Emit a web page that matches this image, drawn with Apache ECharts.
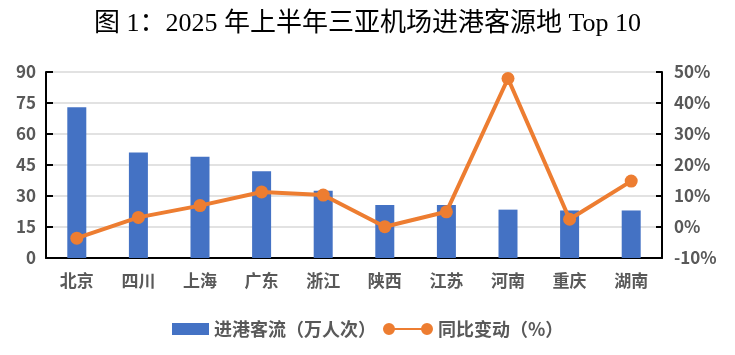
<!DOCTYPE html>
<html><head><meta charset="utf-8">
<script src="https://cdn.jsdelivr.net/npm/echarts@6/dist/echarts.min.js"></script>
<style>html,body{margin:0;padding:0;background:#fff}#c{width:735px;height:355px}</style>
</head><body><div id="c"></div>
<script>
const categories = ['北京','四川','上海','广东','浙江','陕西','江苏','河南','重庆','湖南'];
const passengerFlow = [73, 51, 49, 42, 32.5, 25.6, 25.6, 23.4, 23, 23];
const yoyChange = [-3.6, 3.1, 6.9, 11.3, 10.3, 0.1, 4.9, 47.9, 2.5, 14.8];
const leftTicks = {min: 0, max: 90, interval: 15};
const rightTicks = {min: -10, max: 50, interval: 10};
const seriesNames = ['进港客流（万人次）', '同比变动（%）'];
const titleText = '图 1：2025 年上半年三亚机场进港客源地 Top 10';

const chart = echarts.init(document.getElementById('c'));
const lab = {color: '#595959', fontWeight: 'bold', fontSize: 17, fontFamily: "'Noto Sans CJK SC', sans-serif"};
const legLab = Object.assign({}, lab, {fontSize: 18});
chart.setOption({
  animation: false,
  backgroundColor: '#fff',
  title: {text: titleText, left: 'center', top: 6,
    textStyle: {fontSize: 26, fontWeight: 'normal', color: '#000', fontFamily: "'Liberation Serif', 'Noto Sans CJK SC', serif"}},
  grid: {left: 46, right: 73, top: 72, bottom: 97, containLabel: false},
  legend: [
    {data: [{name: seriesNames[0], icon: 'rect'}], left: 167, top: 315, itemWidth: 37, itemHeight: 12, textStyle: legLab},
    {data: [{name: seriesNames[1], icon: 'path://M0,6 A6,6 0 1,1 12,6 A6,6 0 1,1 0,6 Z M10,5 L40,5 L40,7 L10,7 Z M38,6 A6,6 0 1,1 50,6 A6,6 0 1,1 38,6 Z'}], left: 378, top: 315, itemWidth: 50, itemHeight: 12, textStyle: legLab}
  ],
  xAxis: {type: 'category', data: categories,
    axisLine: {lineStyle: {color: '#000', width: 2}}, axisTick: {show: false},
    axisLabel: Object.assign({margin: 14}, lab)},
  yAxis: [
    Object.assign({type: 'value', position: 'left',
      axisLine: {show: true, lineStyle: {color: '#000', width: 2}},
      axisTick: {show: true, inside: true, length: 7, lineStyle: {color: '#000', width: 2}},
      splitLine: {lineStyle: {color: '#d9d9d9', width: 1.5}},
      axisLabel: Object.assign({margin: 10}, lab)}, leftTicks),
    Object.assign({type: 'value', position: 'right',
      axisLine: {show: true, lineStyle: {color: '#000', width: 2}},
      axisTick: {show: true, inside: true, length: 6, lineStyle: {color: '#000', width: 2}},
      splitLine: {show: false},
      axisLabel: Object.assign({margin: 12, formatter: '{value}%'}, lab)}, rightTicks)
  ],
  series: [
    {name: seriesNames[0], type: 'bar', data: passengerFlow, barWidth: 19, itemStyle: {color: '#4472C4'}},
    {name: seriesNames[1], type: 'line', yAxisIndex: 1, data: yoyChange, symbol: 'circle', symbolSize: 13,
      lineStyle: {color: '#ED7D31', width: 4}, itemStyle: {color: '#ED7D31'}}
  ]
});
</script></body></html>
